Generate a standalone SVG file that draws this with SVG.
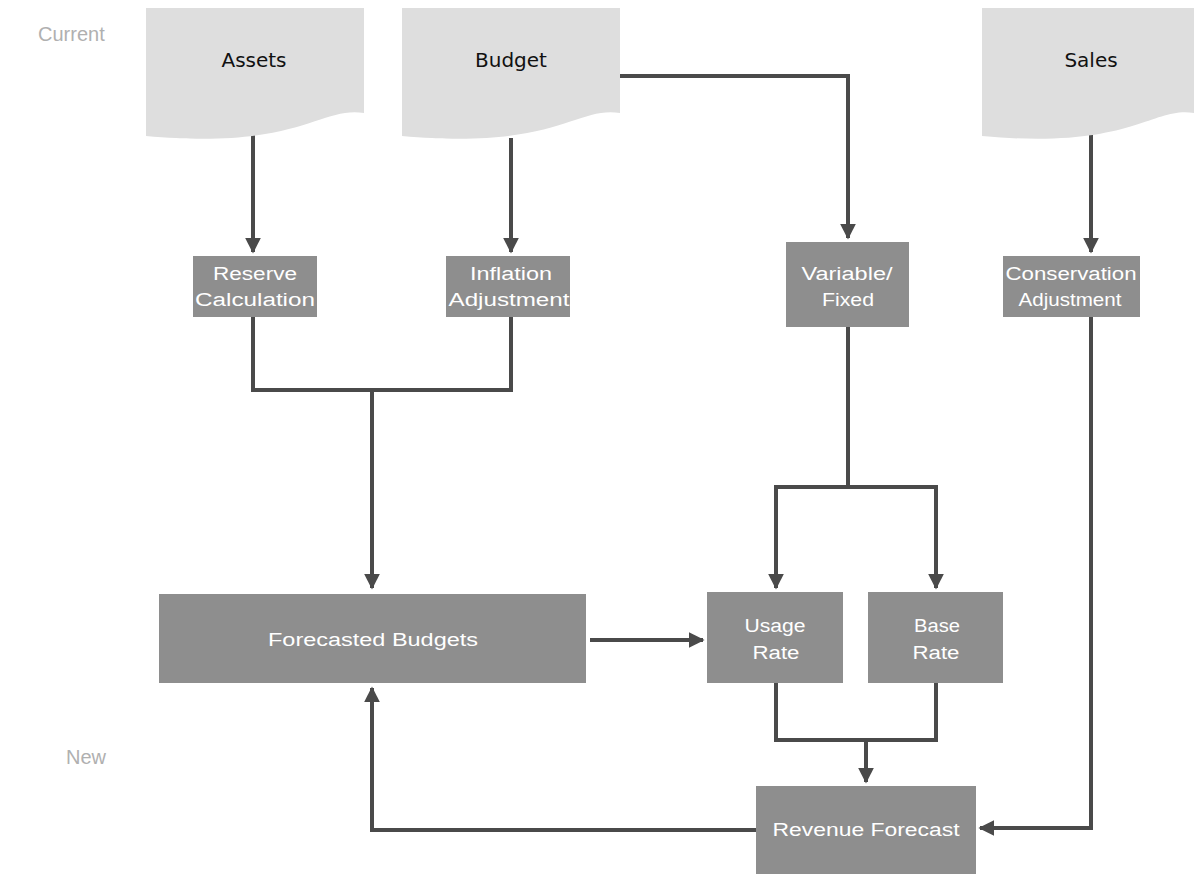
<svg xmlns="http://www.w3.org/2000/svg" width="1194" height="876" viewBox="0 0 1194 876">
<style>
.doc{fill:#dedede;stroke:none}
.box{fill:#8e8e8e;stroke:none}
.dt{font-family:"DejaVu Sans","Liberation Sans",sans-serif;font-size:20px;fill:#111;text-anchor:middle}
.bt{font-family:"Liberation Sans",Arial,sans-serif;font-size:18px;fill:#fff;text-anchor:middle}
.lbl{font-family:"Liberation Sans",Arial,sans-serif;font-size:20px;fill:#b0b0b0}
.c{fill:none;stroke:#4a4a4a;stroke-width:4}
</style>
<defs>
<marker id="ah" viewBox="0 0 10 10" refX="9" refY="5" markerWidth="4" markerHeight="4" orient="auto" markerUnits="strokeWidth">
<path d="M0,0 L10,5 L0,10 z" fill="#4a4a4a"/>
</marker>
</defs>
<text class="lbl" x="38" y="41">Current</text>
<text class="lbl" x="66" y="764">New</text>
<g id="connectors">
<path class="c" d="M253,134 V252" marker-end="url(#ah)"/>
<path class="c" d="M511,138 V252" marker-end="url(#ah)"/>
<path class="c" d="M620,76 H848 V238" marker-end="url(#ah)"/>
<path class="c" d="M1091,118 V252" marker-end="url(#ah)"/>
<path class="c" d="M253,317 V390 H511 V317"/>
<path class="c" d="M372,390 V588" marker-end="url(#ah)"/>
<path class="c" d="M848,327 V487"/>
<path class="c" d="M776,588 V487 H936 V588" marker-end="url(#ah)"/>
<path class="c" d="M776,487 V588" marker-end="url(#ah)"/>
<path class="c" d="M590,640 H703" marker-end="url(#ah)"/>
<path class="c" d="M776,683 V740 H936 V683"/>
<path class="c" d="M866,740 V782" marker-end="url(#ah)"/>
<path class="c" d="M1091,317 V828 H980" marker-end="url(#ah)"/>
<path class="c" d="M756,830 H372 V688" marker-end="url(#ah)"/>
</g>
<g id="assets">
<path class="doc" d="M146,8 H364 V113 C320,106 300,150 146,136 Z"/>
<text class="dt" x="254" y="67">Assets</text>
</g>
<g id="budget">
<path class="doc" d="M402,8 H620 V113 C576,106 556,150 402,136 Z"/>
<text class="dt" x="511" y="67">Budget</text>
</g>
<g id="sales">
<path class="doc" d="M982,8 H1194 V113 C1152,106 1132,150 982,136 Z"/>
<text class="dt" x="1091" y="67">Sales</text>
</g>
<g id="reserve">
<rect class="box" x="193" y="256" width="124" height="61"/>
<text class="bt" x="255" y="280" textLength="84" lengthAdjust="spacingAndGlyphs">Reserve</text>
<text class="bt" x="255" y="306" textLength="120" lengthAdjust="spacingAndGlyphs">Calculation</text>
</g>
<g id="inflation">
<rect class="box" x="446" y="256" width="124" height="61"/>
<text class="bt" x="511" y="280" textLength="82" lengthAdjust="spacingAndGlyphs">Inflation</text>
<text class="bt" x="509" y="306" textLength="121" lengthAdjust="spacingAndGlyphs">Adjustment</text>
</g>
<g id="variable">
<rect class="box" x="786" y="242" width="123" height="85"/>
<text class="bt" x="847" y="280" textLength="91" lengthAdjust="spacingAndGlyphs">Variable/</text>
<text class="bt" x="848" y="306" textLength="52" lengthAdjust="spacingAndGlyphs">Fixed</text>
</g>
<g id="conservation">
<rect class="box" x="1003" y="256" width="137" height="61"/>
<text class="bt" x="1071" y="280" textLength="131" lengthAdjust="spacingAndGlyphs">Conservation</text>
<text class="bt" x="1070" y="306" textLength="103" lengthAdjust="spacingAndGlyphs">Adjustment</text>
</g>
<g id="forecasted">
<rect class="box" x="159" y="594" width="427" height="89"/>
<text class="bt" x="373" y="646" textLength="210" lengthAdjust="spacingAndGlyphs">Forecasted Budgets</text>
</g>
<g id="usage">
<rect class="box" x="707" y="592" width="136" height="91"/>
<text class="bt" x="775" y="632" textLength="61" lengthAdjust="spacingAndGlyphs">Usage</text>
<text class="bt" x="776" y="659" textLength="47" lengthAdjust="spacingAndGlyphs">Rate</text>
</g>
<g id="base">
<rect class="box" x="868" y="592" width="135" height="91"/>
<text class="bt" x="937" y="632" textLength="46" lengthAdjust="spacingAndGlyphs">Base</text>
<text class="bt" x="936" y="659" textLength="47" lengthAdjust="spacingAndGlyphs">Rate</text>
</g>
<g id="revenue">
<rect class="box" x="756" y="786" width="220" height="88"/>
<text class="bt" x="866" y="836" textLength="187" lengthAdjust="spacingAndGlyphs">Revenue Forecast</text>
</g>
</svg>
